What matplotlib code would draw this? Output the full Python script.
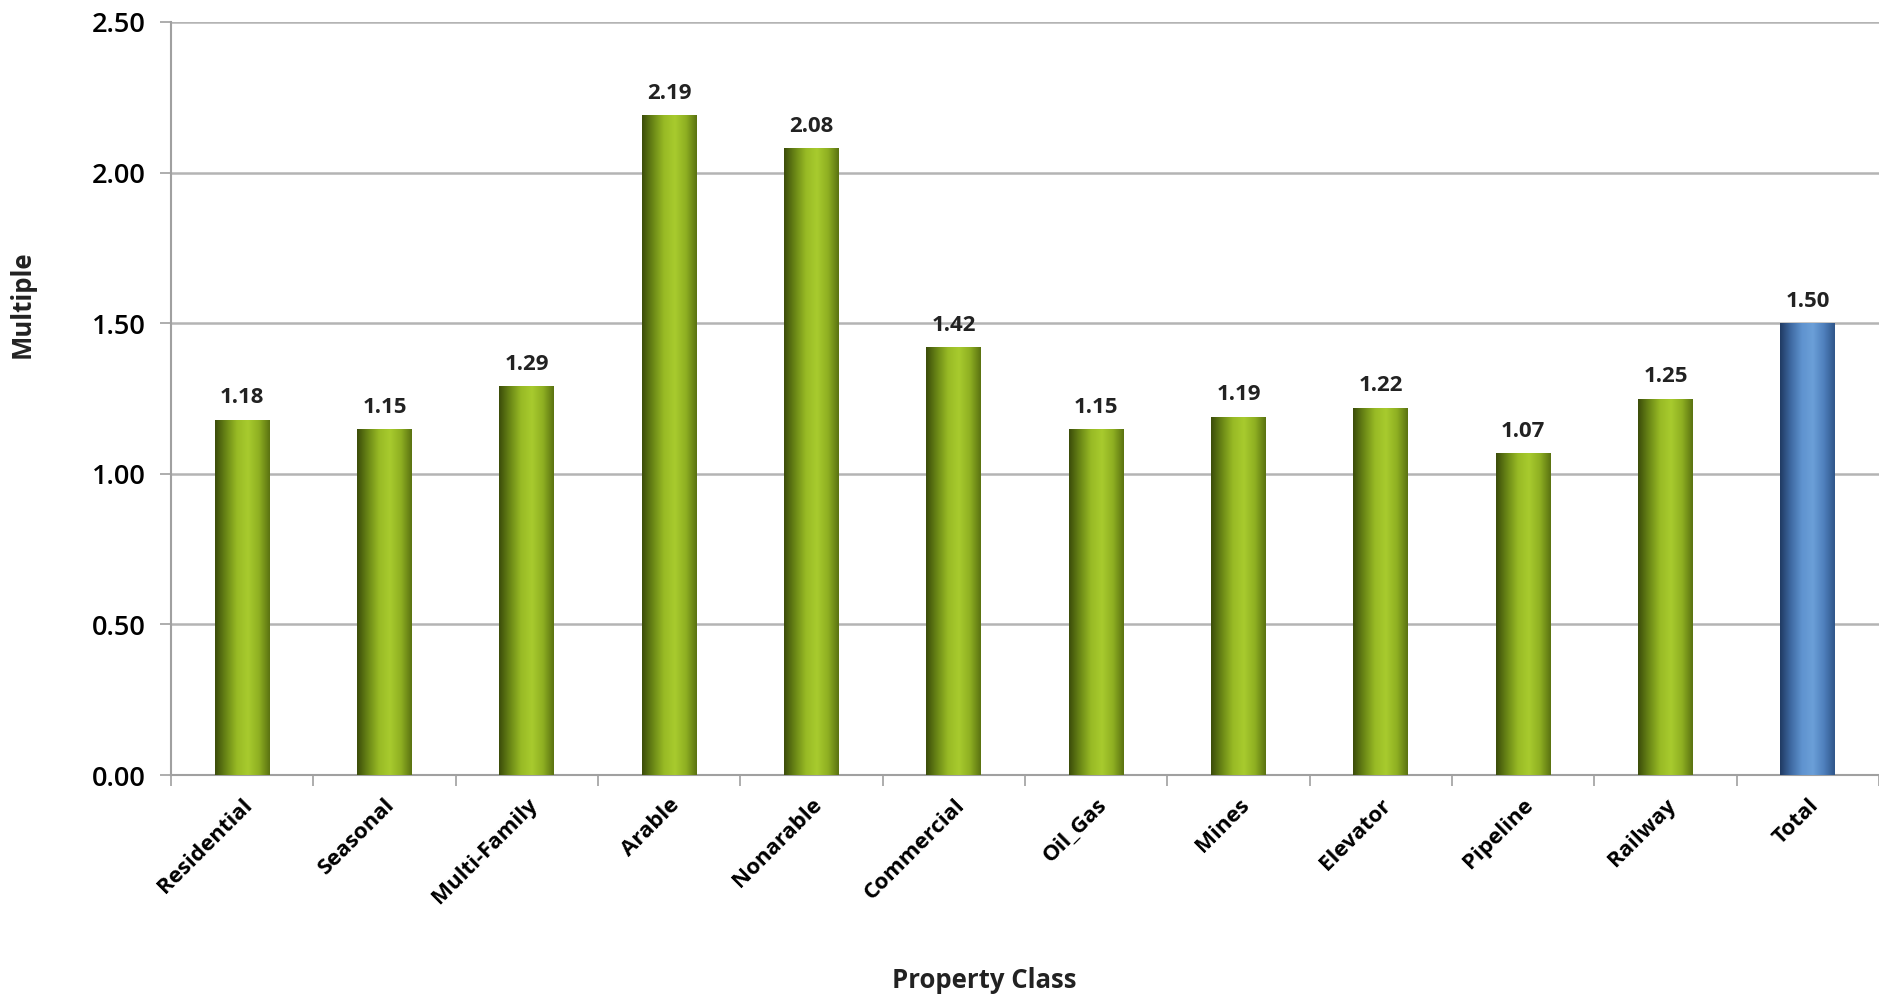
import numpy as np
import matplotlib.pyplot as plt
from matplotlib.colors import LinearSegmentedColormap
from matplotlib.ticker import FixedLocator, MultipleLocator

categories = ["Residential", "Seasonal", "Multi-Family", "Arable", "Nonarable",
              "Commercial", "Oil_Gas", "Mines", "Elevator", "Pipeline",
              "Railway", "Total"]
values = [1.18, 1.15, 1.29, 2.19, 2.08, 1.42, 1.15, 1.19, 1.22, 1.07, 1.25, 1.50]

plt.rcParams['font.family'] = ['Open Sans', 'DejaVu Sans']

green = LinearSegmentedColormap.from_list(
    "green", ["#3b4c0a", "#6a8716", "#98ba25", "#a8cb2e", "#8fb022", "#5a7211"])
blue = LinearSegmentedColormap.from_list(
    "blue", ["#203a62", "#3f6aa3", "#5f93cf", "#6b9fd8", "#4f80bd", "#2f5589"])

fig = plt.figure(figsize=(18.79, 9.98), dpi=100)
ax = fig.add_axes([0.091, 0.2234, 0.909, 0.7546])

x = np.arange(len(categories))
bars = ax.bar(x, values, width=0.386, color="none", zorder=3)

grad = np.linspace(0, 1, 256).reshape(1, -1)
for i, b in enumerate(bars):
    cmap = blue if categories[i] == "Total" else green
    x0, w, h = b.get_x(), b.get_width(), b.get_height()
    im = ax.imshow(grad, cmap=cmap, aspect="auto", extent=(x0, x0 + w, 0, h),
                   zorder=3, interpolation="bicubic")
    im.set_clip_path(b)
    ax.annotate(f"{values[i]:.2f}", (x[i], h), xytext=(0, 8),
                textcoords="offset points", ha="center", va="bottom",
                fontsize=16, fontweight="bold", color="#222222")

ax.set_xlim(-0.5, len(categories) - 0.5)
ax.set_ylim(0, 2.5)
ax.yaxis.set_major_locator(MultipleLocator(0.5))
ax.yaxis.set_major_formatter(lambda v, p: f"{v:.2f}")
ax.grid(axis="y", color="#b4b4b4", linewidth=1.8, zorder=0)

ax.set_xticks(x)
ax.set_xticklabels(categories, rotation=45, ha="right", rotation_mode="anchor",
                   fontsize=16, fontweight="bold")
ax.xaxis.set_minor_locator(FixedLocator(np.arange(-0.5, len(categories), 1.0)))
ax.tick_params(axis="x", which="major", length=0, pad=14)
ax.tick_params(axis="x", which="minor", length=8, color="#a0a0a0", width=1.2)
ax.tick_params(axis="y", length=8, color="#a0a0a0", width=1.2, labelsize=19.5, pad=10)
for lab in ax.get_yticklabels():
    lab.set_fontweight("semibold")

for s in ["top", "right"]:
    ax.spines[s].set_visible(False)
for s in ["left", "bottom"]:
    ax.spines[s].set_color("#a0a0a0")
    ax.spines[s].set_linewidth(1.5)

fig.text(0.012, 0.695, "Multiple", rotation=90, ha="center", va="center",
         fontsize=18.5, fontweight="bold", color="#222222")
fig.text(0.524, 0.018, "Property Class", ha="center", va="center",
         fontsize=18.5, fontweight="bold", color="#222222")

fig.savefig("out.png", dpi=100, facecolor="white")
